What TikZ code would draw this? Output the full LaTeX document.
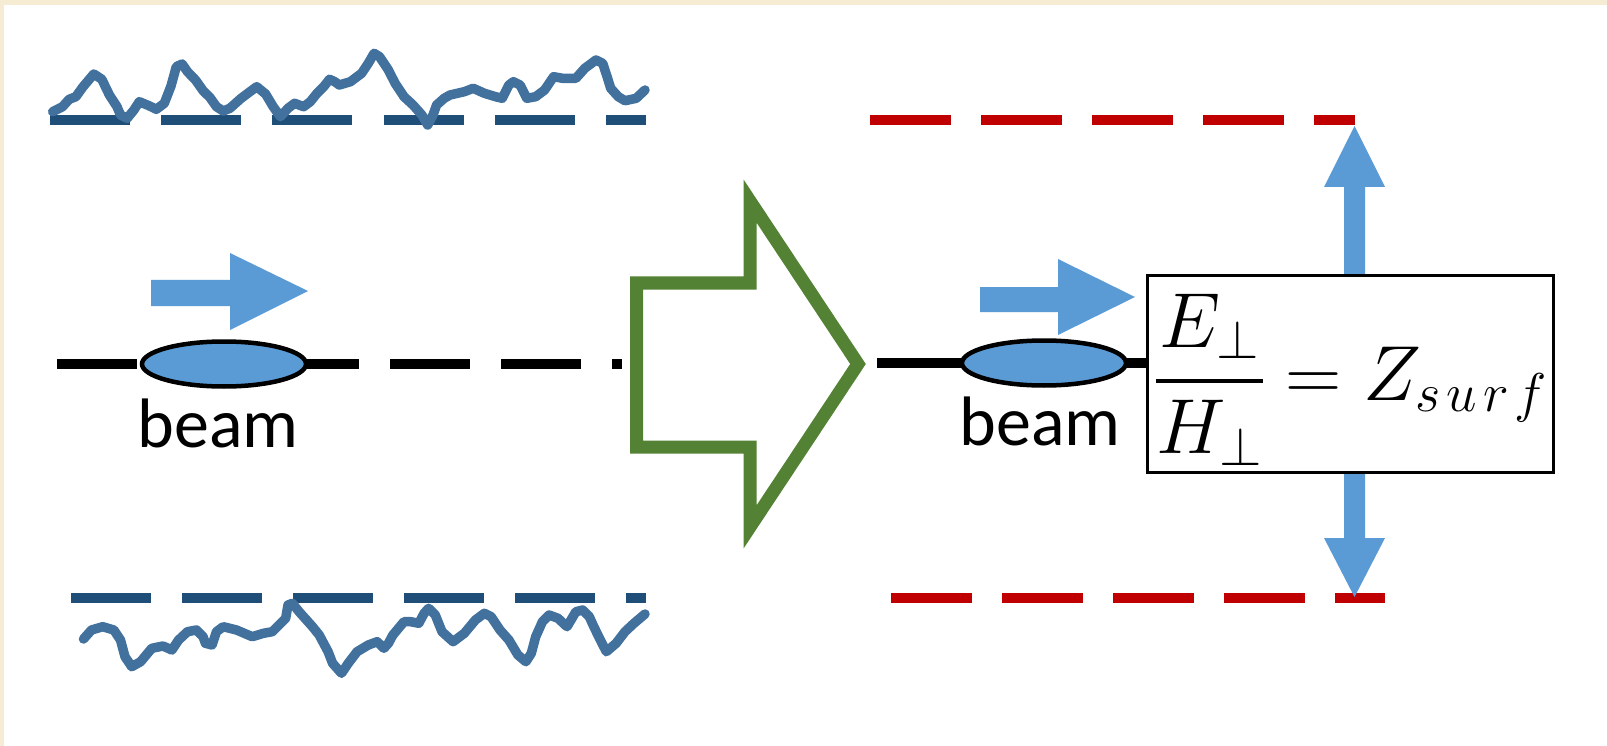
\RequirePackage{fix-cm}
\documentclass[tikz,border=0pt]{standalone}
\usepackage{amsmath}
\usepackage{fontspec}
\setmainfont{Carlito}
\usetikzlibrary{shapes.geometric}
\definecolor{roughblue}{HTML}{41719C}
\definecolor{wallblue}{HTML}{1F4E79}
\definecolor{wallred}{HTML}{C00000}
\definecolor{arrowblue}{HTML}{5B9BD5}
\definecolor{blockgreen}{HTML}{548235}
\definecolor{framebeige}{HTML}{F6ECD3}
\begin{document}
\begin{tikzpicture}[x=1pt,y=-1pt,
  rough/.style={draw=roughblue, line width=9.5pt, line join=round, line cap=round},
  wall/.style={draw=wallblue, line width=10pt, dash pattern=on 80pt off 31.2pt},
  redwall/.style={draw=wallred, line width=10pt, dash pattern=on 81pt off 30pt},
  fatarrow/.style={fill=arrowblue, draw=none},
  beamline/.style={draw=black, line width=10pt},
  bunch/.style={ellipse, draw=black, line width=4.5pt, fill=arrowblue, minimum width=164pt, minimum height=45pt, inner sep=0pt},
  beamlabel/.style={font=\fontsize{70}{74}\selectfont, inner sep=0pt, anchor=base},
]
\useasboundingbox (0,0) rectangle (1607,746);
\fill[white] (0,0) rectangle (1607,746);
\fill[framebeige] (0,0) rectangle (1607,5);
\fill[framebeige] (0,0) rectangle (4,746);

% rough walls (left)
\draw[wall] (50,120) -- (646,120);
\draw[rough] (52.7,111.7) -- (62.5,106.7) -- (69.2,99.3) -- (75.9,96.7) -- (82.6,87.3) -- (93.8,74) -- (101.8,79.3) -- (109.4,95) -- (117,106.7) -- (120.5,115) -- (127.2,118.3) -- (133.9,110) -- (139.3,101.7) -- (149.6,106) -- (156.3,109.3) -- (164.3,103.3) -- (171,86) -- (176.3,66.7) -- (182.1,64) -- (187.5,71.7) -- (195.5,80) -- (203.1,90.7) -- (209.8,97.3) -- (216.5,106.7) -- (223.2,111) -- (229.9,108.3) -- (241.1,98.3) -- (256.7,86.7) -- (265.6,94) -- (273.2,106.7) -- (280.4,116.7) -- (288,108.3) -- (294.6,103.3) -- (303.6,106.7) -- (310.3,101.7) -- (317,93.3) -- (323.7,86.7) -- (329.5,79.3) -- (334.8,81.7) -- (339.3,85) -- (350.4,81.7) -- (361.6,73.3) -- (368.3,63.3) -- (374.1,53.3) -- (379.5,56.7) -- (388.4,70) -- (395.1,83.3) -- (404,96.7) -- (413,105) -- (421.9,115) -- (427.7,125) -- (433,115) -- (436.6,105) -- (444.2,98.3) -- (450,95) -- (464.3,91.7) -- (473.2,88.3) -- (484.4,93.3) -- (495.5,96.7) -- (502.2,98.3) -- (508.9,85) -- (513.4,81.7) -- (520.1,85) -- (526.8,98.3) -- (535.7,96.7) -- (544.6,90) -- (553.6,76.7) -- (562.5,78.3) -- (575.9,78.3) -- (584.8,68.3) -- (596,60) -- (602.7,63.3) -- (607.1,76.7) -- (610.7,88.3) -- (618.3,96.7) -- (625,100.7) -- (636.2,98.3) -- (645,90);

\draw[wall, dash pattern=on 80pt off 31pt] (71,598) -- (646,598);
\draw[rough] (83.5,639) -- (91.5,630) -- (102.7,626.7) -- (113.8,630) -- (120.5,640) -- (125,656.7) -- (131.7,666.7) -- (140.6,661.7) -- (151.8,648.3) -- (163,646) -- (171.9,650) -- (178.6,640) -- (187.5,631.7) -- (196.4,630) -- (203.1,636.7) -- (205.4,643.3) -- (212,645) -- (216.5,631.7) -- (223.2,626.7) -- (236.6,630) -- (252.2,636.7) -- (263.4,633.3) -- (272.3,631.7) -- (279,625) -- (285.7,618.3) -- (288,605) -- (292.4,603.3) -- (299.1,611.7) -- (312.5,626.7) -- (319.2,635) -- (328.1,651.7) -- (332.6,663.3) -- (341.5,673.3) -- (348.2,663.3) -- (357.1,651.7) -- (368.3,645) -- (377.2,641.7) -- (383.9,648.3) -- (388.4,643.3) -- (392.9,635) -- (404,621.7) -- (410.7,621.7) -- (418.8,623.3) -- (424.1,613.3) -- (428.6,608.3) -- (435.3,615) -- (442,631.7) -- (453.1,641.7) -- (464.3,633.3) -- (475.4,620) -- (484.4,613.3) -- (491.1,616.7) -- (500,630) -- (508.9,640) -- (517.9,655) -- (525.9,661.7) -- (531.3,653.3) -- (535.7,636.7) -- (542.4,621.7) -- (549.1,615) -- (558,618.3) -- (567,626.7) -- (575.9,611.7) -- (582.6,610) -- (589.3,616.7) -- (593.8,626.7) -- (600.4,640) -- (606.3,651.7) -- (616.1,643.3) -- (625,631.7) -- (634,623.3) -- (645,614);

% left beam
\coordinate (lstart) at (57,364);
\coordinate (lend) at (622,364);
\draw[beamline, dash pattern=on 80pt off 31pt] (lstart) -- (lend);
\node[bunch] (lbunch) at (224,364) {};
\node[beamlabel] (llabel) at (218,447) {beam};
\fill[fatarrow] (151,280) -- (230,280) -- (230,253) -- (308,291) -- (230,330) -- (230,306) -- (151,306) -- cycle;

% green block arrow
\draw[blockgreen, line width=13pt, line join=miter] (636.5,283) -- (750,283) -- (750,201) -- (858,364) -- (750,527) -- (750,447) -- (636.5,447) -- cycle;

% right side: smooth walls
\draw[redwall] (870,120) -- (1355,120);
\draw[redwall] (891,598) -- (1385,598);

% vertical arrows
\fill[fatarrow] (1344,290) -- (1344,187) -- (1324,187) -- (1354.5,126) -- (1385,187) -- (1365,187) -- (1365,290) -- cycle;
\fill[fatarrow] (1344,460) -- (1344,538) -- (1324,538) -- (1354.5,597) -- (1385,538) -- (1365,538) -- (1365,460) -- cycle;

% right beam
\coordinate (rstart) at (877,363);
\node[draw=black, line width=3pt, fill=white, minimum width=406pt, minimum height=197pt, inner sep=0pt] (zbox) at (1350.5,374) {};
\draw[beamline] (rstart) -- (rstart -| zbox.west);
\node[bunch] (rbunch) at (1044,363) {};
\node[beamlabel] (rlabel) at (1040,445) {beam};
\fill[fatarrow] (980,287) -- (1058,287) -- (1058,259) -- (1135,297) -- (1058,335) -- (1058,312) -- (980,312) -- cycle;

% formula
\node[anchor=base west, inner sep=0pt, font=\fontsize{78}{90}\selectfont] (formula) at (1155,400) {$\genfrac{}{}{4pt}{0}{E_{\perp}}{H_{\perp}} \mathrel{=} Z_{s\mkern2mu u\mkern2mu r\mkern2mu f}$};
\end{tikzpicture}
\end{document}
